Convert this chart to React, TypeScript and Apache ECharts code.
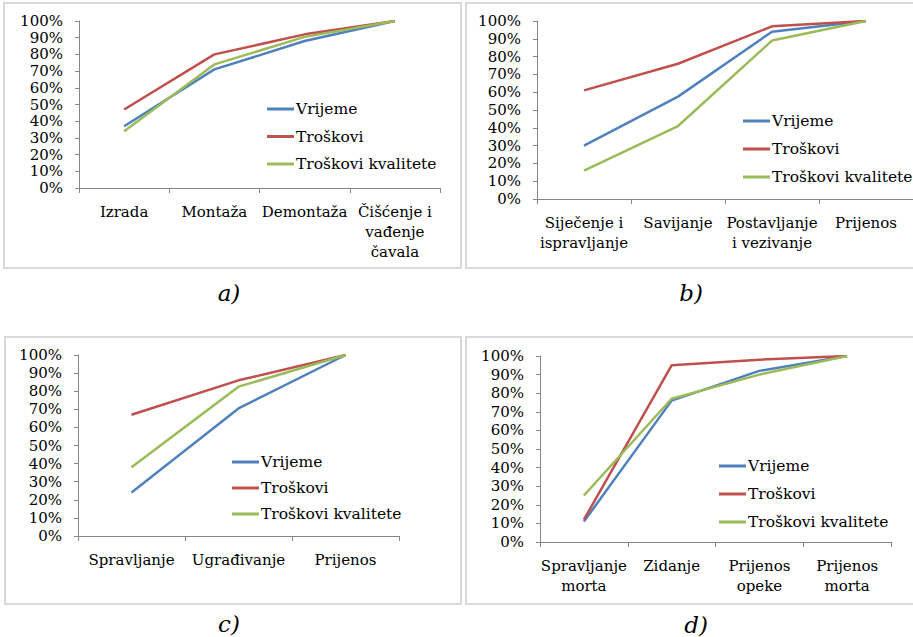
import React, { useEffect, useRef } from "react";
import * as echarts from "echarts";

const FONT = "DejaVu Serif";
const SERIES_NAMES = ["Vrijeme", "Troškovi", "Troškovi kvalitete"];
const COLORS = ["#4F81BD", "#C0504D", "#9BBB59"];
const Y_TICKS = [0, 10, 20, 30, 40, 50, 60, 70, 80, 90, 100];

const categoriesA = ["Izrada", "Montaža", "Demontaža", "Čišćenje i\nvađenje\nčavala"];
const vrijemeA = [37, 71, 88, 100];
const troskoviA = [47, 80, 92, 100];
const kvaliteteA = [34, 74, 90.5, 100];

const categoriesB = ["Siječenje i\nispravljanje", "Savijanje", "Postavljanje\ni vezivanje", "Prijenos"];
const vrijemeB = [30, 57.5, 94, 100];
const troskoviB = [61, 76, 97, 100];
const kvaliteteB = [16, 41, 89, 100];

const categoriesC = ["Spravljanje", "Ugrađivanje", "Prijenos"];
const vrijemeC = [24, 70.5, 100];
const troskoviC = [67, 86, 100];
const kvaliteteC = [38, 82.5, 100];

const categoriesD = ["Spravljanje\nmorta", "Zidanje", "Prijenos\nopeke", "Prijenos\nmorta"];
const vrijemeD = [11, 76, 92, 100];
const troskoviD = [12, 95, 98, 100];
const kvaliteteD = [25, 77, 90, 100];

const CAPTIONS = ["a)", "b)", "c)", "d)"];

export default function App() {
  const ref = useRef<HTMLDivElement>(null);
  useEffect(() => {
    document.body.style.margin = "0";
    const chart = echarts.init(ref.current!, null, { renderer: "svg" });

    const panels = [
      { cats: categoriesA, data: [vrijemeA, troskoviA, kvaliteteA], grid: { left: 79, top: 21, width: 361, height: 167 }, legend: { left: 267, top: 99, gap: 7.5 } },
      { cats: categoriesB, data: [vrijemeB, troskoviB, kvaliteteB], grid: { left: 537, top: 21, width: 377, height: 178 }, legend: { left: 743, top: 111, gap: 8 } },
      { cats: categoriesC, data: [vrijemeC, troskoviC, kvaliteteC], grid: { left: 78, top: 355, width: 321, height: 181 }, legend: { left: 232, top: 452, gap: 6 } },
      { cats: categoriesD, data: [vrijemeD, troskoviD, kvaliteteD], grid: { left: 540, top: 356, width: 351, height: 186 }, legend: { left: 719, top: 456, gap: 8 } },
    ];

    const boxes = [
      { x: 4, y: 3, w: 457, h: 265 },
      { x: 466, y: 3, w: 452, h: 265 },
      { x: 5, y: 337, w: 456, h: 267 },
      { x: 466, y: 337, w: 452, h: 267 },
    ];
    const captionPos = [
      { x: 229, y: 293 },
      { x: 691, y: 293 },
      { x: 229, y: 624 },
      { x: 696, y: 625 },
    ];

    const axisLineStyle = { color: "#868686", width: 1 };

    const option: any = {
      animation: false,
      backgroundColor: "#ffffff",
      grid: panels.map((p) => ({ ...p.grid })),
      xAxis: panels.map((p, i) => ({
        type: "category",
        gridIndex: i,
        data: p.cats,
        boundaryGap: true,
        axisLine: { show: true, lineStyle: axisLineStyle },
        axisTick: { show: true, length: 5, lineStyle: axisLineStyle },
        axisLabel: {
          interval: 0,
          fontFamily: FONT,
          fontSize: 15,
          color: "#000",
          lineHeight: 20,
          margin: 14,
        },
        splitLine: { show: false },
      })),
      yAxis: panels.map((p, i) => ({
        type: "value",
        gridIndex: i,
        min: Y_TICKS[0],
        max: Y_TICKS[Y_TICKS.length - 1],
        interval: 10,
        axisLine: { show: true, lineStyle: axisLineStyle },
        axisTick: { show: true, length: 4, lineStyle: axisLineStyle },
        axisLabel: {
          formatter: "{value}%",
          fontFamily: FONT,
          fontSize: 15,
          color: "#000",
          margin: 16,
        },
        splitLine: { show: false },
      })),
      legend: panels.map((p) => ({
        left: p.legend.left,
        top: p.legend.top,
        orient: "vertical",
        icon: "rect",
        itemWidth: 27,
        itemHeight: 3,
        itemGap: p.legend.gap,
        padding: 0,
        selectedMode: false,
        data: SERIES_NAMES,
        textStyle: { fontFamily: FONT, fontSize: 15.5, color: "#000", lineHeight: 20, padding: [0, 0, 0, -3] },
      })),
      series: panels.flatMap((p, i) =>
        p.data.map((d, k) => ({
          type: "line",
          name: SERIES_NAMES[k],
          xAxisIndex: i,
          yAxisIndex: i,
          data: d,
          showSymbol: false,
          symbol: "none",
          smooth: false,
          color: COLORS[k],
          lineStyle: { color: COLORS[k], width: 2.5 },
        }))
      ),
      graphic: [
        ...boxes.map((b) => ({
          type: "rect",
          shape: { x: b.x, y: b.y, width: b.w, height: b.h },
          style: { fill: "none", stroke: "#d9d9d9", lineWidth: 2 },
          silent: true,
        })),
        ...CAPTIONS.map((c, i) => ({
          type: "text",
          x: captionPos[i].x,
          y: captionPos[i].y,
          style: {
            text: c,
            fontFamily: FONT,
            fontSize: 23,
            fontStyle: "italic",
            fill: "#000",
            align: "center",
            verticalAlign: "middle",
          },
        })),
      ],
    };
    chart.setOption(option);
    return () => chart.dispose();
  }, []);
  return <div ref={ref} style={{ width: 913, height: 637 }} />;
}
